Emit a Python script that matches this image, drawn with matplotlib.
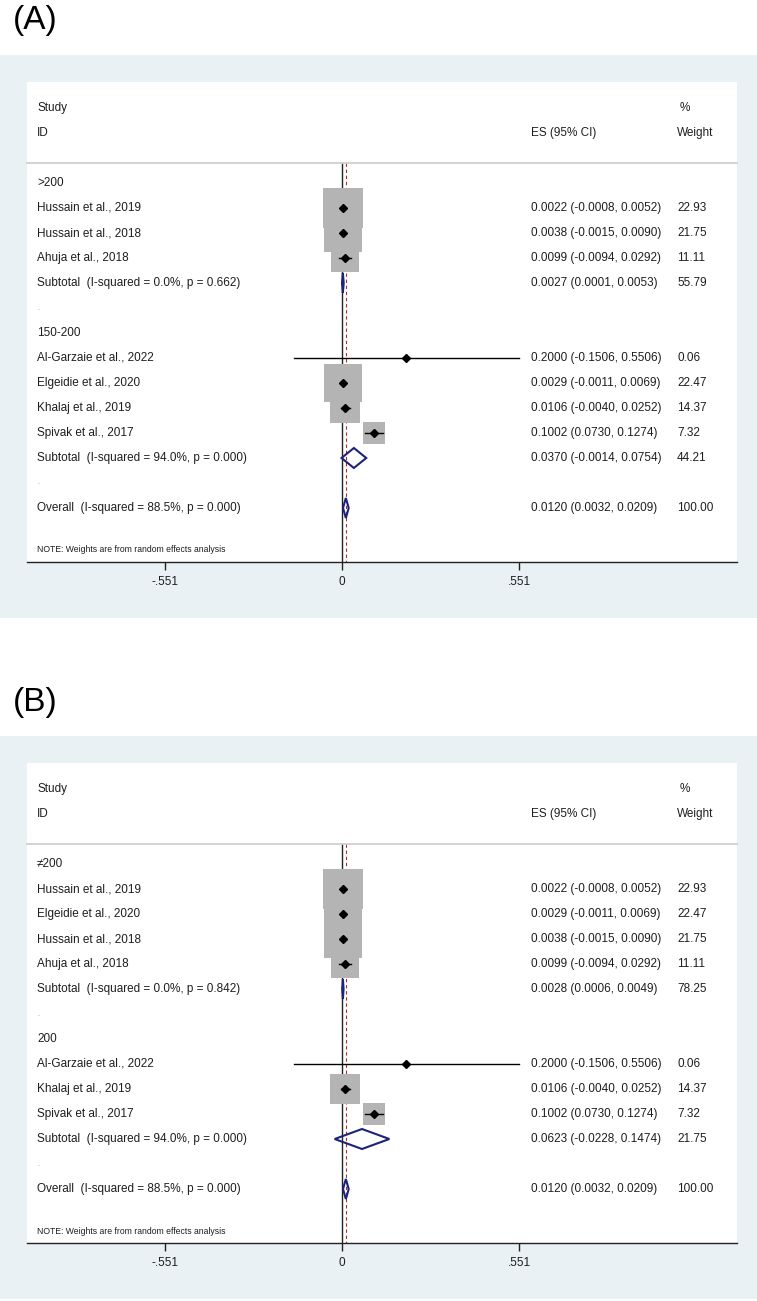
import matplotlib
matplotlib.use('Agg')
import matplotlib.pyplot as plt
from matplotlib.patches import Rectangle, Polygon
from matplotlib.transforms import blended_transform_factory

plt.rcParams['font.family'] = ['Liberation Sans', 'DejaVu Sans']

# ---------------- data ----------------
# Panel A
a_group_labels = [">200", "150-200"]
a_g1_studies = ["Hussain et al., 2019", "Hussain et al., 2018", "Ahuja et al., 2018"]
a_g1_es = [0.0022, 0.0038, 0.0099]
a_g1_lo = [-0.0008, -0.0015, -0.0094]
a_g1_hi = [0.0052, 0.0090, 0.0292]
a_g1_w = [22.93, 21.75, 11.11]
a_g2_studies = ["Al-Garzaie et al., 2022", "Elgeidie et al., 2020", "Khalaj et al., 2019", "Spivak et al., 2017"]
a_g2_es = [0.2000, 0.0029, 0.0106, 0.1002]
a_g2_lo = [-0.1506, -0.0011, -0.0040, 0.0730]
a_g2_hi = [0.5506, 0.0069, 0.0252, 0.1274]
a_g2_w = [0.06, 22.47, 14.37, 7.32]
a_sub_labels = ["Subtotal  (I-squared = 0.0%, p = 0.662)", "Subtotal  (I-squared = 94.0%, p = 0.000)"]
a_sub_es = [0.0027, 0.0370]
a_sub_lo = [0.0001, -0.0014]
a_sub_hi = [0.0053, 0.0754]
a_sub_w = [55.79, 44.21]

# Panel B
b_group_labels = ["\u2260200", "200"]
b_g1_studies = ["Hussain et al., 2019", "Elgeidie et al., 2020", "Hussain et al., 2018", "Ahuja et al., 2018"]
b_g1_es = [0.0022, 0.0029, 0.0038, 0.0099]
b_g1_lo = [-0.0008, -0.0011, -0.0015, -0.0094]
b_g1_hi = [0.0052, 0.0069, 0.0090, 0.0292]
b_g1_w = [22.93, 22.47, 21.75, 11.11]
b_g2_studies = ["Al-Garzaie et al., 2022", "Khalaj et al., 2019", "Spivak et al., 2017"]
b_g2_es = [0.2000, 0.0106, 0.1002]
b_g2_lo = [-0.1506, -0.0040, 0.0730]
b_g2_hi = [0.5506, 0.0252, 0.1274]
b_g2_w = [0.06, 14.37, 7.32]
b_sub_labels = ["Subtotal  (I-squared = 0.0%, p = 0.842)", "Subtotal  (I-squared = 94.0%, p = 0.000)"]
b_sub_es = [0.0028, 0.0623]
b_sub_lo = [0.0006, -0.0228]
b_sub_hi = [0.0049, 0.1474]
b_sub_w = [78.25, 21.75]

overall_label = "Overall  (I-squared = 88.5%, p = 0.000)"
overall_es = 0.0120
overall_lo = 0.0032
overall_hi = 0.0209
overall_w = 100.00

tick_vals = [-0.551, 0, 0.551]
tick_labels = ["-.551", "0", ".551"]
note_text = "NOTE: Weights are from random effects analysis"

# ---------------- styling ----------------
W, H = 757, 1301
BG = '#e9f1f4'
BOX = '#b4b4b4'
NAVY = '#1b237a'
TXT = '#1e1e1e'
FS = 8.5
K = 321.2          # pixels per unit on x
SQ_K = 34.4        # marker area (pt^2) per % weight

fig = plt.figure(figsize=(W / 100, H / 100), dpi=100)
fig.patch.set_facecolor('white')


def fmt_ci(es, lo, hi):
    return f"{es:.4f} ({lo:.4f}, {hi:.4f})"


def draw_panel(off, letter, group_labels, groups, subs):
    fig.text(13 / W, 1 - (21 + off) / H, letter, fontsize=24, va='center', ha='left', color='black')
    bg = fig.add_axes([0, 1 - (618 + off) / H, 1, 563 / H], zorder=-5)
    bg.set_facecolor(BG)
    bg.set_xticks([])
    bg.set_yticks([])
    for s in bg.spines.values():
        s.set_visible(False)

    ax = fig.add_axes([27 / W, 1 - (562 + off) / H, 710 / W, 480 / H], zorder=1)
    ax.set_facecolor('white')
    ax.set_xlim((27 - 342) / K, (737 - 342) / K)
    ax.set_ylim(18.16, -1.04)
    for s in ['top', 'left', 'right']:
        ax.spines[s].set_visible(False)
    ax.spines['bottom'].set_color('#222222')
    ax.spines['bottom'].set_linewidth(1.0)
    ax.set_yticks([])
    ax.set_xticks(tick_vals)
    ax.set_xticklabels(tick_labels, fontsize=FS, color=TXT)
    ax.tick_params(axis='x', length=6, width=1.0, color='#222222', pad=4)

    tr = blended_transform_factory(ax.transAxes, ax.transData)
    xs = (37 - 27) / 710
    xe = (531 - 27) / 710
    xw = (677 - 27) / 710

    ax.text(xs, 0, "Study", transform=tr, fontsize=FS, va='center', color=TXT)
    ax.text(xs, 1, "ID", transform=tr, fontsize=FS, va='center', color=TXT)
    ax.text(xe, 1, "ES (95% CI)", transform=tr, fontsize=FS, va='center', color=TXT)
    ax.text(xw + 0.004, 0, "%", transform=tr, fontsize=FS, va='center', color=TXT)
    ax.text(xw, 1, "Weight", transform=tr, fontsize=FS, va='center', color=TXT)
    ax.plot([0, 1], [2.2, 2.2], transform=tr, color='#cfcfcf', lw=1.3, clip_on=False)

    ybot = 18.16
    ax.plot([0, 0], [2.2, ybot], color='#222222', lw=1.0, zorder=1.5)
    ax.plot([overall_es, overall_es], [2.2, ybot], color='#b02a2a', lw=0.8,
            dashes=(3, 2.5), zorder=1.6)

    row = 3
    for gl, (names, es, lo, hi, w), (sl, ses, slo, shi, sw) in zip(group_labels, groups, subs):
        ax.text(xs, row, gl, transform=tr, fontsize=FS, va='center', color=TXT)
        row += 1
        for n, e, l, h, ww in zip(names, es, lo, hi, w):
            ax.text(xs, row, n, transform=tr, fontsize=FS, va='center', color=TXT)
            ax.scatter([e], [row], s=SQ_K * ww, marker='s', color=BOX, linewidths=0, zorder=1.7)
            ax.plot([l, h], [row, row], color='black', lw=1.0, zorder=3)
            ax.plot([e], [row], marker='D', ms=3.6, color='black', zorder=4)
            ax.text(xe, row, fmt_ci(e, l, h), transform=tr, fontsize=FS, va='center', color=TXT)
            ax.text(xw, row, f"{ww:.2f}", transform=tr, fontsize=FS, va='center', color=TXT)
            row += 1
        ax.text(xs, row, sl, transform=tr, fontsize=FS, va='center', color=TXT)
        ax.add_patch(Polygon([(slo, row), (ses, row - 0.4), (shi, row), (ses, row + 0.4)],
                             closed=True, fill=False, edgecolor=NAVY, lw=1.5, zorder=5))
        ax.text(xe, row, fmt_ci(ses, slo, shi), transform=tr, fontsize=FS, va='center', color=TXT)
        ax.text(xw, row, f"{sw:.2f}", transform=tr, fontsize=FS, va='center', color=TXT)
        row += 1
        ax.text(xs, row, ".", transform=tr, fontsize=5, va='center', color='#888888')
        row += 1
    ax.text(xs, row, overall_label, transform=tr, fontsize=FS, va='center', color=TXT)
    ax.add_patch(Polygon([(overall_lo, row), (overall_es, row - 0.4), (overall_hi, row), (overall_es, row + 0.4)],
                         closed=True, fill=False, edgecolor=NAVY, lw=1.5, zorder=5))
    ax.text(xe, row, fmt_ci(overall_es, overall_lo, overall_hi), transform=tr, fontsize=FS, va='center', color=TXT)
    ax.text(xw, row, f"{overall_w:.2f}", transform=tr, fontsize=FS, va='center', color=TXT)
    ax.text(xs, 17.68, note_text, transform=tr, fontsize=6.2, va='center', color=TXT)
    return ax


draw_panel(0, "(A)", a_group_labels,
           [(a_g1_studies, a_g1_es, a_g1_lo, a_g1_hi, a_g1_w),
            (a_g2_studies, a_g2_es, a_g2_lo, a_g2_hi, a_g2_w)],
           list(zip(a_sub_labels, a_sub_es, a_sub_lo, a_sub_hi, a_sub_w)))
draw_panel(681, "(B)", b_group_labels,
           [(b_g1_studies, b_g1_es, b_g1_lo, b_g1_hi, b_g1_w),
            (b_g2_studies, b_g2_es, b_g2_lo, b_g2_hi, b_g2_w)],
           list(zip(b_sub_labels, b_sub_es, b_sub_lo, b_sub_hi, b_sub_w)))

fig.savefig('out.png', dpi=100, facecolor='white')
